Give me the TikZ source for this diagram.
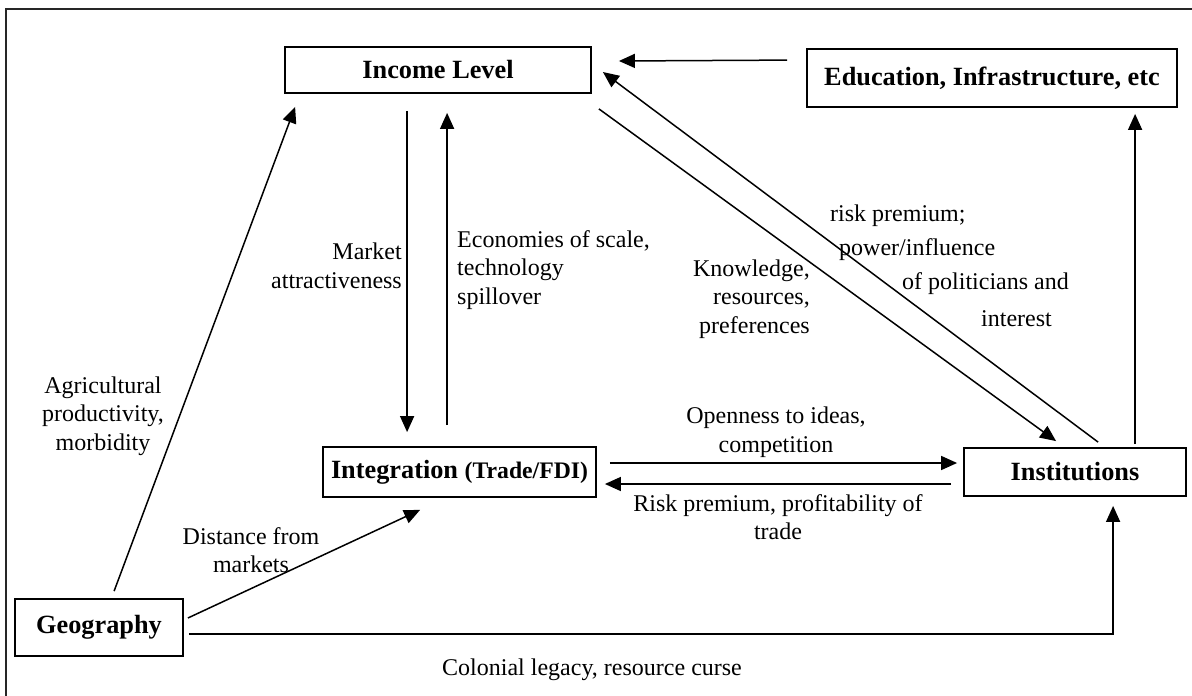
\documentclass[tikz,border=0pt]{standalone}
\usepackage{fontspec}
\setmainfont{Liberation Serif}
\usetikzlibrary{arrows.meta,calc}
\tikzset{
  box/.style={draw=black, line width=1.8pt, inner sep=0pt, font=\bfseries\fontsize{26.3}{30}\selectfont},
  lbl/.style={inner sep=0pt, font=\fontsize{24}{28.5}\selectfont},
  conn/.style={line width=1.5pt, -{Triangle[length=16pt,width=14pt]}},
  plain/.style={line width=1.5pt}
}
\begin{document}
\begin{tikzpicture}[x=1pt,y=-1pt]
\useasboundingbox (0,0) rectangle (1192,696);
\fill[white] (0,0) rectangle (1192,696);
% outer frame
\draw[line width=2pt, draw=black!85] (6,9) rectangle (1200,705);
% boxes
\node[box, minimum width=306pt, minimum height=46pt] (inc) at (438,70) {Income Level};
\node[box, minimum width=370pt, minimum height=58pt] (edu) at (992,78) {Education, Infrastructure, etc};
\node[box, minimum width=222pt, minimum height=48pt] (inst) at (1075,472) {Institutions};
\node[box, minimum width=273pt, minimum height=50pt] (integ) at (459.5,472) {Integration {\fontsize{23.7}{28}\selectfont(Trade/FDI)}};
\node[box, minimum width=168pt, minimum height=57pt] (geo) at (99,627.5) {Geography};
% connectors
\draw[conn] ($(geo.north west)+(100,-7)$) -- ($(inc.south west)+(11,13)$);
\draw[conn] ($(inc.south west)+(123,17)$) -- ($(integ.north west)+(85,-14)$);
\draw[conn] ($(integ.north west)+(125,-21)$) -- ($(inc.south west)+(163,19)$);
\draw[conn] ($(inc.south east)+(7,15)$) -- ($(inst.north west)+(93,-6)$);
\draw[conn] ($(inst.north west)+(135,-5)$) -- ($(inc.east)+(11,2)$);
\draw[conn] ($(inst.north west)+(172,-3)$) -- ($(edu.south west)+(329,6)$);
\draw[conn] ($(integ.east)+(13,-9)$) -- ($(inst.west)+(-6,-9)$);
\draw[conn] ($(inst.west)+(-12,12)$) -- ($(integ.east)+(8,12)$);
\draw[conn] ($(geo.east)+(4,-9.5)$) -- ($(integ.south west)+(98,12)$);
\draw[conn] ($(geo.east)+(5,6.5)$) -| ($(inst.south west)+(150,9)$);
\draw[conn] ($(edu.north west)+(-19,12)$) -- ($(inc.east)+(27,-9)$);
% labels
\node[lbl, align=center] (lagr) at (103,416) {Agricultural\\productivity,\\morbidity};
\node[lbl, align=right, anchor=east] (lmkt) at (402,266) {Market\\attractiveness};
\node[lbl, align=left, anchor=west] (leco) at (457,270) {Economies of scale,\\technology\\spillover};
\node[lbl, align=right, anchor=east] (lknw) at (810,299) {Knowledge,\\resources,\\preferences};
\node[lbl, anchor=west] (lrp1) at (830,216) {risk premium;};
\node[lbl, anchor=west] (lrp2) at (839,250) {power/influence};
\node[lbl, anchor=west] (lrp3) at (902,284) {of politicians and};
\node[lbl, anchor=west] (lrp4) at (981,319) {interest};
\node[lbl, align=center] (lopn) at (776,432) {Openness to ideas,\\competition};
\node[lbl, align=center] (lrsk) at (778,517) {Risk premium, profitability of\\trade};
\node[lbl, align=center] (ldst) at (251,550) {Distance from\\markets};
\node[lbl, anchor=west] (lcol) at (442,670) {Colonial legacy, resource curse};
\end{tikzpicture}
\end{document}
